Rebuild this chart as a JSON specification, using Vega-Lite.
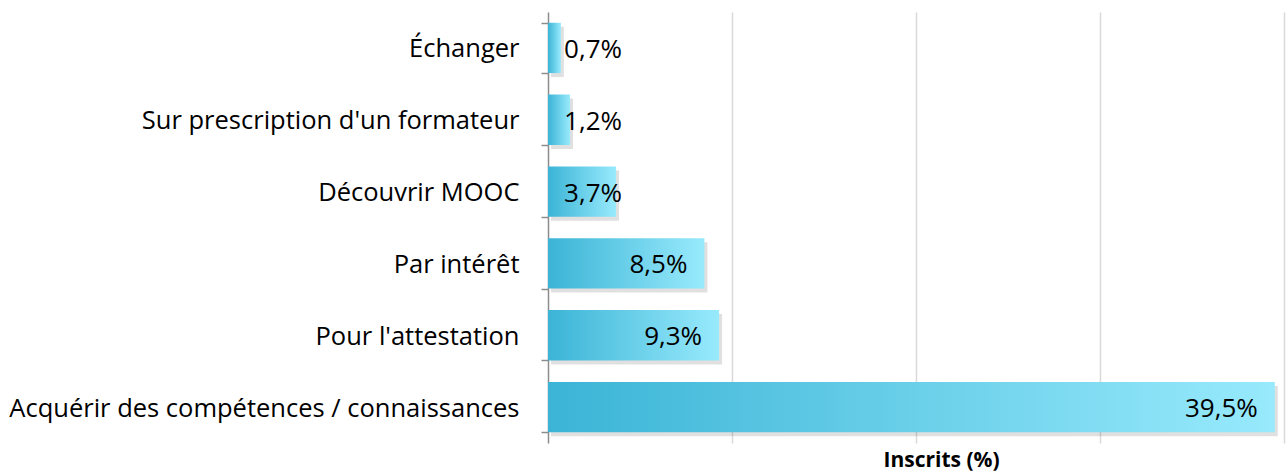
{
  "$schema": "https://vega.github.io/schema/vega-lite/v6.json",
  "width": 736,
  "height": 431,
  "autosize": "none",
  "padding": {"left": 548, "top": 12, "right": 2, "bottom": 33},
  "background": "white",
  "config": {"view": {"stroke": null}, "font": "Open Sans"},
  "data": {"values": [
    {"motif": "Échanger", "pct": 0.7, "label": "0,7%"},
    {"motif": "Sur prescription d'un formateur", "pct": 1.2, "label": "1,2%"},
    {"motif": "Découvrir MOOC", "pct": 3.7, "label": "3,7%"},
    {"motif": "Par intérêt", "pct": 8.5, "label": "8,5%"},
    {"motif": "Pour l'attestation", "pct": 9.3, "label": "9,3%"},
    {"motif": "Acquérir des compétences / connaissances", "pct": 39.5, "label": "39,5%"}
  ]},
  "encoding": {
    "y": {
      "field": "motif", "type": "nominal",
      "sort": ["Échanger", "Sur prescription d'un formateur", "Découvrir MOOC", "Par intérêt", "Pour l'attestation", "Acquérir des compétences / connaissances"],
      "scale": {"paddingInner": 0.3, "paddingOuter": 0.15},
      "axis": {
        "title": null, "tickBand": "extent", "domainColor": "#8c8c8c", "domainWidth": 1.5,
        "tickColor": "#8c8c8c", "tickWidth": 1.5, "tickSize": 7, "labelPadding": 22,
        "labelFontSize": 25.5, "labelColor": "#000", "labelFont": "Open Sans", "labelLimit": 600, "labelOffset": 1
      }
    }
  },
  "layer": [
    {
      "mark": {"type": "bar", "color": "#000", "opacity": 0.12, "xOffset": 3, "yOffset": 4},
      "encoding": {
        "x": {"field": "pct", "type": "quantitative", "scale": {"domain": [0, 40], "nice": false},
          "axis": {"values": [10, 20, 30, 40], "grid": true, "gridColor": "#d9d9d9", "gridWidth": 1.5,
            "labels": false, "ticks": false, "domain": false,
            "title": "Inscrits (%)", "titleFont": "Open Sans", "titleFontSize": 21, "titleFontWeight": "bold",
            "titleColor": "#000", "titleX": 393, "titlePadding": 6}}
      }
    },
    {
      "mark": {"type": "bar", "color": {"gradient": "linear", "x1": 0, "x2": 1, "y1": 0, "y2": 0,
        "stops": [{"offset": 0, "color": "#3bb4d6"}, {"offset": 1, "color": "#98eafc"}]}},
      "encoding": {"x": {"field": "pct", "type": "quantitative"}}
    },
    {
      "transform": [{"calculate": "max(datum.pct, 4.95)", "as": "lp"}],
      "mark": {"type": "text", "align": "right", "baseline": "middle", "dx": -17, "dy": 2, "fontSize": 26, "color": "#000", "font": "Open Sans"},
      "encoding": {"x": {"field": "lp", "type": "quantitative"}, "text": {"field": "label"}}
    }
  ]
}
